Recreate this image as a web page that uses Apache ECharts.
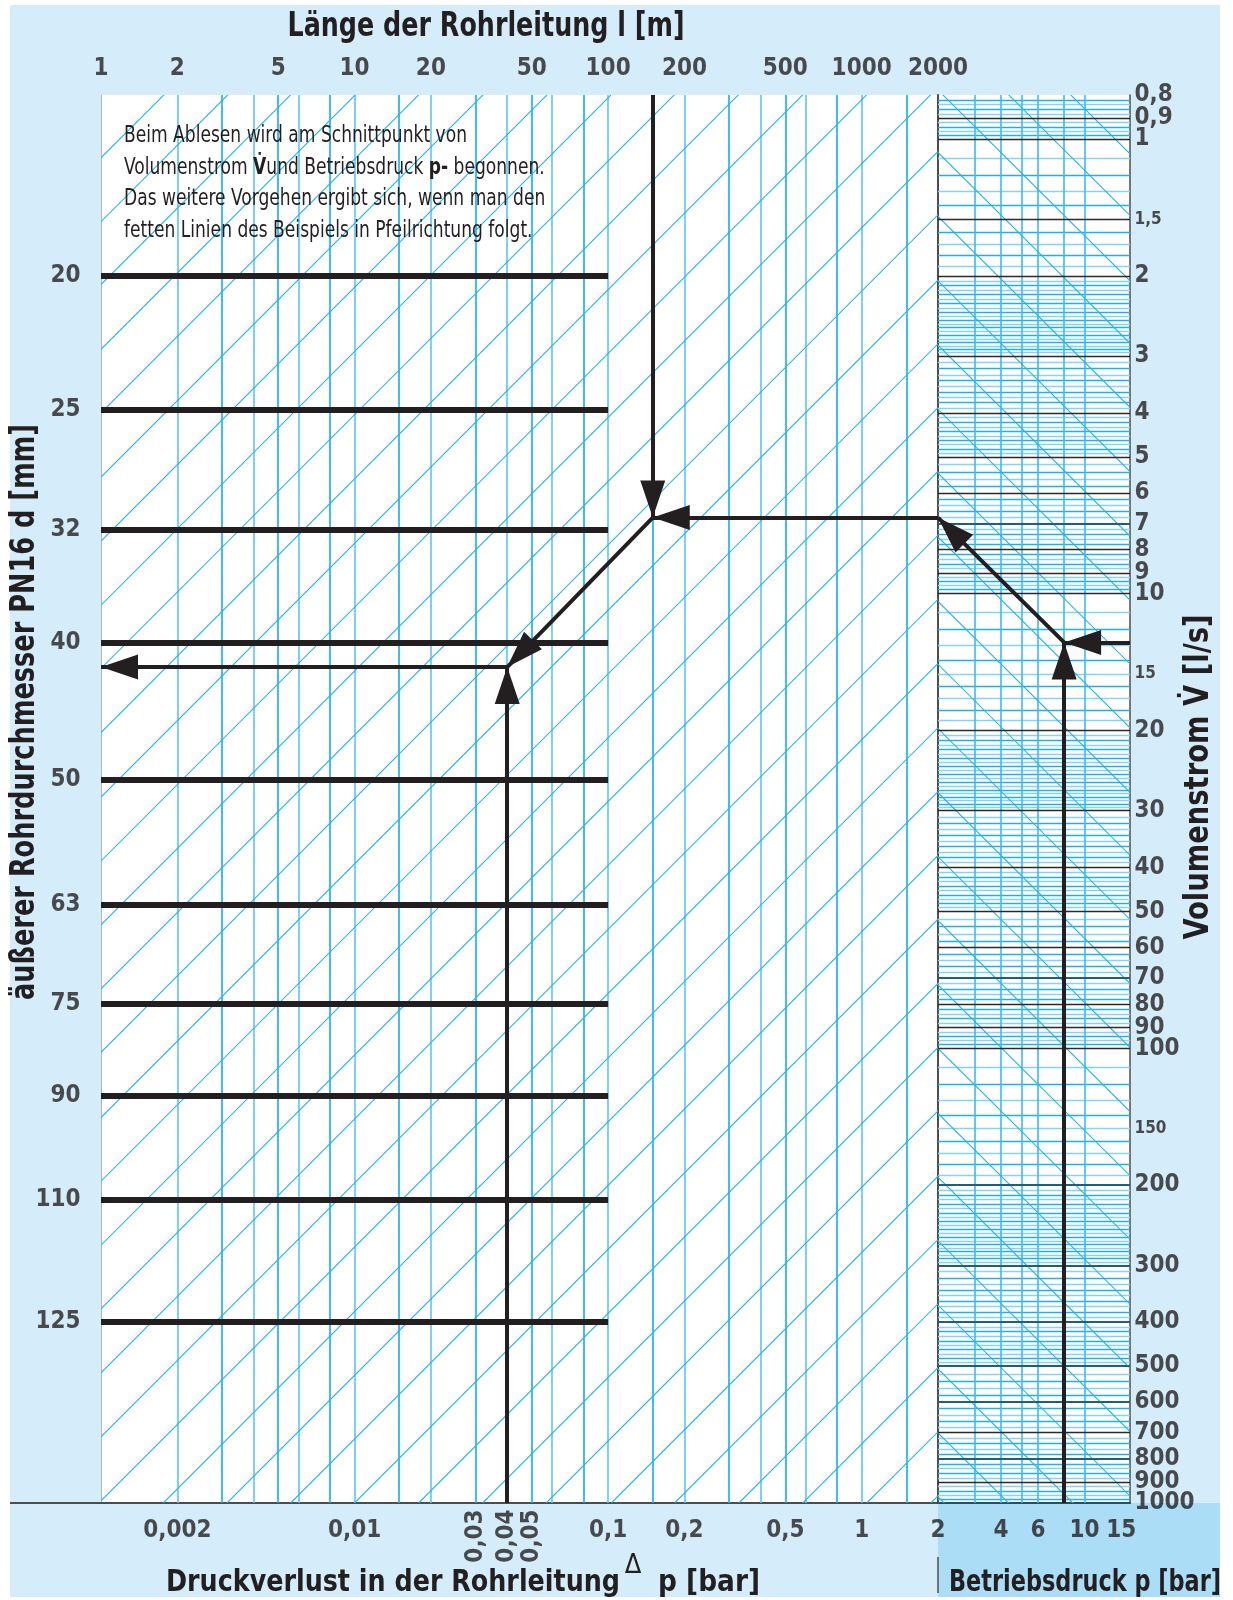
<!DOCTYPE html>
<html><head><meta charset="utf-8">
<script src="https://cdn.jsdelivr.net/npm/echarts@6/dist/echarts.min.js"></script>
<style>
html,body{margin:0;padding:0;background:#fff;}
#band{position:absolute;left:10px;top:5px;width:1210px;height:1592px;background:#d5edfa;}
#band2{position:absolute;left:938px;top:1503px;width:282px;height:94px;background:#abdef6;}
#base{position:absolute;left:10px;top:1502px;width:92px;height:2px;background:#4d4d4d;}
#chart{position:absolute;left:0;top:0;width:1233px;height:1600px;}
</style></head><body>
<div id="band"></div><div id="band2"></div><div id="base"></div><div id="chart"></div>
<script>
// ---------------- data ----------------
const lengthTicks = [1, 2, 5, 10, 20, 50, 100, 200, 500, 1000, 2000];
const lengthGridLines = [2, 3, 4, 5, 6, 8, 10, 15, 20, 30, 40, 50, 60, 80, 100, 150, 200, 300, 400, 500, 600, 800, 1000, 1500];
const dropTicks = [0.002, 0.01, 0.1, 0.2, 0.5, 1];
const dropTicksUpright = [0.03, 0.04, 0.05];
const pressureTicks = [2, 4, 6, 10, 15];
const pressureGridLines = [3, 4, 5, 6, 8, 10];
const flowTicks = [0.8, 0.9, 1, 2, 3, 4, 5, 6, 7, 8, 9, 10, 20, 30, 40, 50, 60, 70, 80, 90, 100, 200, 300, 400, 500, 600, 700, 800, 900, 1000];
const flowTicksSmall = [1.5, 15, 150];
const flowBlackLines = [0.9, 1, 1.5, 2, 3, 4, 5, 6, 8, 9, 10, 20, 30, 40, 50, 60, 80, 90, 100, 700, 900];
const flowTealLines = [7, 70, 200, 300, 400, 500, 600, 800];
const flowMinorPattern = [[1, 2, 0.1], [2, 3, 0.05], [3, 5, 0.1], [5, 10, 0.2]];
const flowDecades = [0.1, 1, 10, 100];
const diameters = ['20', '25', '32', '40', '50', '63', '75', '90', '110', '125'];
const diameterLevel = [2.0, 3.93, 7.23, 12.8, 25.7, 48.4, 79.6, 127, 215, 400];
const leftDiagFlowAtL1 = [1.1, 1.52, 2.09, 2.9, 4.0, 5.54, 7.66, 10.6, 14.6, 20.2, 28.0, 38.7, 53.5, 74.0, 102, 142, 196, 271, 374, 517, 715, 989];
const leftDiagLengthAtBottom = [1.76, 3.14, 5.6, 10, 17.9, 32, 57, 103, 183, 328, 586, 1048, 1875];
const leftDiagExponent = 0.558;
const rightDiagFlowAtP2 = [0.41, 0.56, 0.78, 1.07, 1.48, 2.05, 2.84, 3.93, 5.43, 7.5, 10.4, 14.3, 19.8, 27.4, 37.9, 52.4, 72.5, 100, 139, 192, 265, 367, 507, 701, 969];
const rightDiagExponent = 0.458;
const exampleLength = 150;
const examplePressure = 8;
const exampleFlow = 12.8;
const exampleFlowAtLength = 6.8;
const exampleDrop = 0.04;
const exampleDropLevel = 14.5;

// ---------------- helpers ----------------
const FONT = "'Liberation Sans Narrow','DejaVu Sans Condensed','DejaVu Sans',sans-serif";
const INK = '#231f20';
const BLUE = '#12aeea';
const LIGHT = '#86d3f4';
const fmt = v => String(v).replace('.', ',');
const LMIN = 1, LMAX = 2000, DMIN = 0.001, DMAX = 2, PMIN = 2, PMAX = 16.5, VMIN = 0.8, VMAX = 1000;

const mctx = document.createElement('canvas').getContext('2d');
function fit(text, size, weight, target) {
  mctx.font = weight + ' ' + size + 'px ' + FONT;
  return target / mctx.measureText(text).width;
}

const majorSet = new Set([...flowBlackLines, ...flowTealLines]);
const minorFlow = [];
flowDecades.forEach(d => flowMinorPattern.forEach(([a, b, s]) => {
  const n = Math.round((b - a) / s);
  for (let i = 1; i < n; i++) {
    const v = +((a + i * s) * d).toPrecision(6);
    if (v > VMIN && v < VMAX && !majorSet.has(v)) minorFlow.push({ v, light: (i % 2 === 1 && n > 6) });
  }
}));

const seg = (a, b, style) => ({ coords: [a, b], lineStyle: style });
const head = (pt) => ({ coord: pt, symbol: 'triangle', symbolSize: [25, 37], symbolOffset: [0, '50%'] });
const tail = (pt) => ({ coord: pt, symbol: 'none' });

function labelSeries(xi, yi, data, label) {
  return {
    type: 'scatter', xAxisIndex: xi, yAxisIndex: yi, symbolSize: 1, silent: true, clip: false, z: 20,
    itemStyle: { color: 'transparent' }, animation: false,
    data: data,
    label: Object.assign({ show: true, color: INK, fontFamily: FONT, fontSize: 24, fontWeight: 'bold', formatter: p => p.name }, label)
  };
}

const logAxis = (o) => Object.assign({
  type: 'log', logBase: 10, axisLabel: { show: false }, axisTick: { show: false },
  splitLine: { show: false }, axisLine: { show: false }
}, o);

function title(text, x, y, size, target, extra) {
  return Object.assign({ type: 'text', x: x, y: y, z: 100, silent: true, scaleX: fit(text, size, 'bold', target),
    style: { text: text, fontFamily: FONT, fontSize: size, fontWeight: 'bold', fill: INK,
      align: 'left', verticalAlign: 'middle', textAlign: 'left', textVerticalAlign: 'middle' } }, extra || {});
}
function centered(el) { el.style.align = 'center'; el.style.textAlign = 'center'; return el; }

const noteLine1 = 'Beim Ablesen wird am Schnittpunkt von';
const noteScale = fit(noteLine1, 23, 'normal', 343);

const option = {
  animation: false,
  backgroundColor: 'transparent',
  grid: [
    { left: 101, top: 95, width: 837, height: 1408, show: true, backgroundColor: '#ffffff', borderWidth: 0 },
    { left: 938, top: 95, width: 192, height: 1408, show: true, backgroundColor: '#ffffff', borderWidth: 0 }
  ],
  xAxis: [
    logAxis({ gridIndex: 0, min: LMIN, max: LMAX, position: 'top' }),
    logAxis({ gridIndex: 0, min: DMIN, max: DMAX, position: 'bottom', axisLine: { show: true, onZero: false, lineStyle: { color: '#4d4d4d', width: 2 } } }),
    logAxis({ gridIndex: 1, min: PMIN, max: PMAX, position: 'bottom', axisLine: { show: true, onZero: false, lineStyle: { color: '#2b4f62', width: 2 } } })
  ],
  yAxis: [
    logAxis({ gridIndex: 0, min: VMIN, max: VMAX, inverse: true, position: 'left', axisLine: { show: true, onZero: false, lineStyle: { color: '#b5b5b5', width: 1 } } }),
    logAxis({ gridIndex: 1, min: VMIN, max: VMAX, inverse: true, position: 'left', axisLine: { show: true, onZero: false, lineStyle: { color: '#4d4d4d', width: 2 } } }),
    logAxis({ gridIndex: 1, min: VMIN, max: VMAX, inverse: true, position: 'right', axisLine: { show: true, onZero: false, lineStyle: { color: '#4d4d4d', width: 1.5 } } })
  ],
  series: [
    { type: 'lines', coordinateSystem: 'cartesian2d', xAxisIndex: 0, yAxisIndex: 0, silent: true, clip: true, z: 2,
      data: lengthGridLines.map((L, i) => seg([L, VMIN], [L, VMAX], { color: i % 2 ? BLUE : '#5cc6f1', width: 1.6, opacity: 1 })) },
    { type: 'lines', coordinateSystem: 'cartesian2d', xAxisIndex: 0, yAxisIndex: 0, silent: true, clip: true, z: 2,
      data: leftDiagFlowAtL1.map(v => seg([LMIN, v], [LMAX, v * Math.pow(LMAX, -leftDiagExponent)], { color: '#2ab2ea', width: 1.1, opacity: 1 }))
        .concat(leftDiagLengthAtBottom.map(L => seg([L, VMAX], [LMAX, VMAX * Math.pow(LMAX / L, -leftDiagExponent)], { color: '#2ab2ea', width: 1.1, opacity: 1 }))) },
    { type: 'lines', coordinateSystem: 'cartesian2d', xAxisIndex: 0, yAxisIndex: 0, silent: true, clip: true, z: 4,
      data: diameterLevel.map(v => seg([LMIN, v], [100, v], { color: INK, width: 6, opacity: 1 })) },
    { type: 'lines', coordinateSystem: 'cartesian2d', xAxisIndex: 0, yAxisIndex: 0, silent: true, z: 6, data: [],
      markLine: { silent: true, animation: false, label: { show: false }, lineStyle: { color: INK, width: 4, type: 'solid' }, emphasis: { disabled: true },
        data: [
          [tail([exampleLength, VMIN]), head([exampleLength, exampleFlowAtLength])],
          [tail([LMAX, exampleFlowAtLength]), head([exampleLength, exampleFlowAtLength])]
        ] } },
    { type: 'lines', coordinateSystem: 'cartesian2d', xAxisIndex: 1, yAxisIndex: 0, silent: true, z: 6, data: [],
      markLine: { silent: true, animation: false, label: { show: false }, lineStyle: { color: INK, width: 4, type: 'solid' }, emphasis: { disabled: true },
        data: [
          [tail([exampleLength / 1000, exampleFlowAtLength]), head([exampleDrop, exampleDropLevel])],
          [tail([exampleDrop, exampleDropLevel]), head([DMIN, exampleDropLevel])],
          [tail([exampleDrop, VMAX]), head([exampleDrop, exampleDropLevel])]
        ] } },
    { type: 'lines', coordinateSystem: 'cartesian2d', xAxisIndex: 2, yAxisIndex: 1, silent: true, clip: true, z: 2,
      data: minorFlow.map(o => seg([PMIN, o.v], [PMAX, o.v], { color: o.light ? LIGHT : '#1cb0ec', width: 1.3, opacity: 1 })) },
    { type: 'lines', coordinateSystem: 'cartesian2d', xAxisIndex: 2, yAxisIndex: 1, silent: true, clip: true, z: 3,
      data: pressureGridLines.map(p => seg([p, VMIN], [p, VMAX], { color: '#3dbbee', width: 1.6, opacity: 1 })) },
    { type: 'lines', coordinateSystem: 'cartesian2d', xAxisIndex: 2, yAxisIndex: 1, silent: true, clip: true, z: 3,
      data: rightDiagFlowAtP2.map(v => seg([PMIN, v], [PMAX, v * Math.pow(PMAX / PMIN, rightDiagExponent)], { color: '#2ab2ea', width: 1.1, opacity: 1 })) },
    { type: 'lines', coordinateSystem: 'cartesian2d', xAxisIndex: 2, yAxisIndex: 1, silent: true, clip: true, z: 4,
      data: flowBlackLines.map(v => seg([PMIN, v], [PMAX, v], { color: '#2a2a2a', width: 1.3, opacity: 1 }))
        .concat(flowTealLines.map(v => seg([PMIN, v], [PMAX, v], { color: '#1d5f7c', width: 2, opacity: 1 }))) },
    { type: 'lines', coordinateSystem: 'cartesian2d', xAxisIndex: 2, yAxisIndex: 1, silent: true, z: 6, data: [],
      markLine: { silent: true, animation: false, label: { show: false }, lineStyle: { color: INK, width: 4, type: 'solid' }, emphasis: { disabled: true },
        data: [
          [tail([PMAX, exampleFlow]), head([examplePressure, exampleFlow])],
          [tail([examplePressure, VMAX]), head([examplePressure, exampleFlow])],
          [tail([examplePressure, exampleFlow]), head([PMIN, exampleFlowAtLength])]
        ] } },
    labelSeries(0, 0, lengthTicks.map(v => ({ name: String(v), value: [v, VMIN] })), { position: 'top', distance: 14 }),
    labelSeries(1, 0, dropTicks.map(v => ({ name: fmt(v), value: [v, VMAX] })), { position: 'bottom', distance: 15 }),
    labelSeries(1, 0, dropTicksUpright.map(v => ({ name: fmt(v), value: [v, VMAX] })), { position: 'inside', rotate: 90, offset: [-33, 0], fontSize: 24 }),
    labelSeries(2, 1, pressureTicks.map(v => ({ name: String(v), value: [v, VMAX] })), { position: 'bottom', distance: 15 }),
    labelSeries(2, 2, flowTicks.map(v => ({ name: fmt(v), value: [PMAX, v] })), { position: 'right', distance: 4 }),
    labelSeries(2, 2, flowTicksSmall.map(v => ({ name: fmt(v), value: [PMAX, v] })), { position: 'right', distance: 4, fontSize: 17 }),
    labelSeries(0, 0, diameters.map((d, i) => ({ name: d, value: [LMIN, diameterLevel[i]] })), { position: 'left', distance: 20 })
  ],
  graphic: [
    centered(title('Länge der Rohrleitung l [m]', 486, 27, 34, 397)),
    centered(title('äußerer Rohrdurchmesser PN16 d [mm]', 25, 712, 33, 576, { rotation: Math.PI / 2 })),
    centered(title('Volumenstrom V\u0307 [l/s]', 1199, 777, 33, 325, { rotation: Math.PI / 2 })),
    title('Druckverlust in der Rohrleitung', 166, 1583, 31, 454),
    { type: 'text', x: 633, y: 1566, z: 100, silent: true, style: { text: 'Δ', fontFamily: FONT, fontSize: 27, fill: INK, align: 'center', verticalAlign: 'middle', textAlign: 'center', textVerticalAlign: 'middle' } },
    title('p [bar]', 658, 1583, 31, 102),
    title('Betriebsdruck p [bar]', 949, 1583, 31, 272),
    { type: 'line', z: 100, silent: true, shape: { x1: 938, y1: 1557, x2: 938, y2: 1593 }, style: { stroke: '#4d4d4d', lineWidth: 1.5 } },
    { type: 'text', x: 124, y: 120, z: 100, silent: true, scaleX: noteScale, style: {
        text: noteLine1 + '\nVolumenstrom {b|V\u0307}und Betriebsdruck {b|p-} begonnen.\nDas weitere Vorgehen ergibt sich, wenn man den\nfetten Linien des Beispiels in Pfeilrichtung folgt.',
        fontFamily: FONT, fontSize: 23, lineHeight: 31.7, fill: INK, align: 'left', verticalAlign: 'top', textAlign: 'left', textVerticalAlign: 'top',
        rich: { b: { fontFamily: FONT, fontSize: 23, fontWeight: 'bold', fill: INK, lineHeight: 31.7 } } } }
  ]
};

const chart = echarts.init(document.getElementById('chart'), null, { renderer: 'canvas' });
chart.setOption(option);
</script></body></html>
